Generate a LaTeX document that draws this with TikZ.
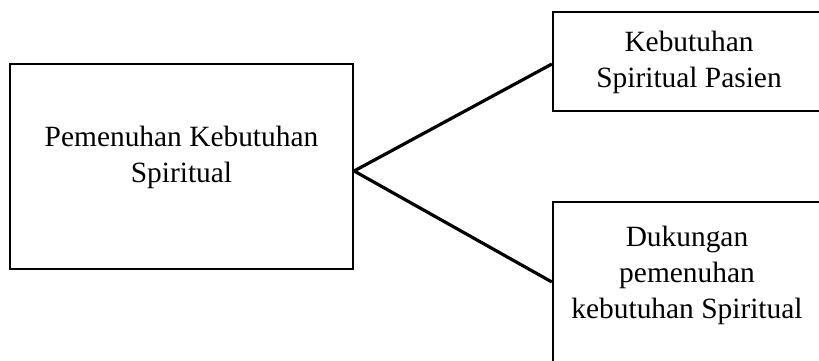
\documentclass[tikz,border=0pt]{standalone}
\usepackage{fontspec}
\setmainfont{Liberation Serif}
\begin{document}
\begin{tikzpicture}[x=1pt,y=-1pt,
  box/.style={draw=black,line width=2.2pt,rectangle,inner sep=0pt},
  label/.style={align=center,font=\fontsize{29.4}{35.8}\selectfont,inner sep=0pt,anchor=base},
  link/.style={draw=black,line width=3.2pt}]
\useasboundingbox (0,0) rectangle (819,360);
\clip (0,0) rectangle (819,360);
% main box
\node[box,minimum width=343pt,minimum height=205pt] (main) at (181.5,166.5) {};
\node[label] (maintext) at (181.5,182) {Pemenuhan Kebutuhan\\Spiritual};
% upper right box
\node[box,minimum width=277pt,minimum height=99pt] (patient) at (691.5,61.5) {};
\node[label] (patienttext) at (689,87) {Kebutuhan\\Spiritual Pasien};
% lower right box
\node[box,minimum width=277pt,minimum height=178pt] (support) at (691.5,291) {};
\node[label] (supporttext) at (687,318) {Dukungan\\pemenuhan\\kebutuhan Spiritual};
% connectors
\coordinate (apex) at (main.east |- 0,171);
\coordinate (upend) at (patient.west |- 0,64);
\coordinate (lowend) at (support.west |- 0,282);
\draw[link] (apex) -- (upend);
\draw[link] (apex) -- (lowend);
\end{tikzpicture}
\end{document}
